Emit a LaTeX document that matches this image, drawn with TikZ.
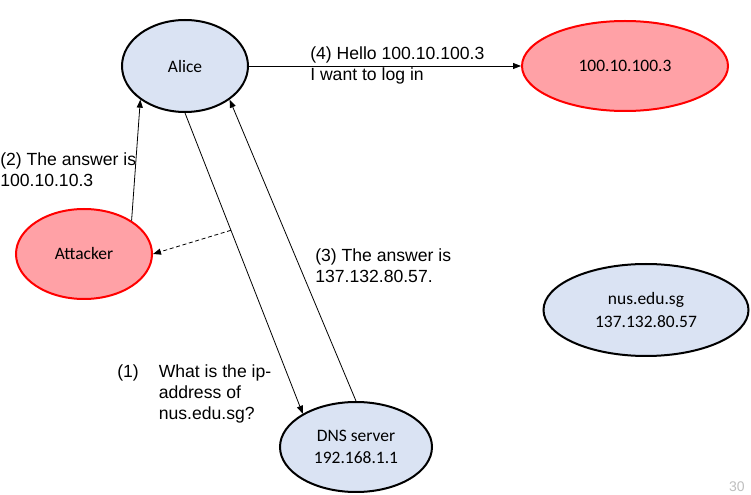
\documentclass[tikz,border=0pt]{standalone}
\usepackage{fontspec}
\setmainfont{Liberation Sans}
\newfontfamily\calibri{Carlito}
\usetikzlibrary{shapes.geometric,arrows.meta,calc}
\definecolor{HostBlue}{RGB}{218,227,243}
\definecolor{EvilPink}{RGB}{255,161,166}
\definecolor{PageGray}{RGB}{190,190,190}

\tikzset{
  host/.style={ellipse, draw=black, line width=1.5pt, fill=HostBlue, inner sep=0pt,
    align=center, font=\calibri\fontsize{13.1}{17}\selectfont},
  evil/.style={host, draw=red, fill=EvilPink},
  msg/.style={-{Triangle[length=6pt,width=4.5pt]}, line width=0.6pt},
  note/.style={anchor=north west, inner sep=0pt, align=left,
    font=\fontsize{13.2}{15.9}\selectfont},
}

\begin{document}
\begin{tikzpicture}[x=0.75pt,y=0.75pt,yscale=-1,xscale=1]
\useasboundingbox (0,0) rectangle (751,495);

%Shape: Ellipse
\node [host, minimum width=94.5pt, minimum height=69pt] (alice) at (185,66) {Alice};
%Shape: Ellipse
\node [evil, minimum width=154.5pt, minimum height=67.5pt] (target) at (625,66) {100.10.100.3};
%Shape: Ellipse
\node [evil, minimum width=102pt, minimum height=67.5pt] (attacker) at (84,254) {Attacker};
%Shape: Ellipse
\node [host, minimum width=153.75pt, minimum height=69pt] (nus) at (646,310) {nus.edu.sg\\137.132.80.57};
%Shape: Ellipse
\node [host, minimum width=114pt, minimum height=67.5pt] (dns) at (356,447) {DNS server\\192.168.1.1};

%Straight Lines
\draw [msg] (alice.east) -- (target.west);
%Straight Lines
\draw [msg] (attacker.35) -- (alice.-143);
%Straight Lines
\draw [msg] (alice.south) -- (dns.148);
%Straight Lines
\draw [msg] (dns.north) -- (alice.-37);
%Straight Lines
\coordinate (tap) at ($(alice.south)!0.39!(dns.148)$);
\draw [msg, dash pattern={on 3pt off 2pt}] (tap) -- (attacker.east);

% Text Node
\node [note] (hello) at (310,46) {(4) Hello 100.10.100.3\\I want to log in};
% Text Node
\node [note] (fake) at (0,152) {(2) The answer is\\100.10.10.3};
% Text Node
\node [note] (real) at (315,248) {(3) The answer is\\137.132.80.57.};
% Text Node
\node [note] (query) at (117,362) {\begin{tabular}{@{}l@{\hspace{15pt}}l@{}}
(1) & What is the ip-\\ & address of\\ & nus.edu.sg?\end{tabular}};
% Text Node
\node [anchor=base east, inner sep=0pt, text=PageGray, font=\fontsize{10.5}{12}\selectfont] (page) at (745,492) {30};

\end{tikzpicture}
\end{document}
